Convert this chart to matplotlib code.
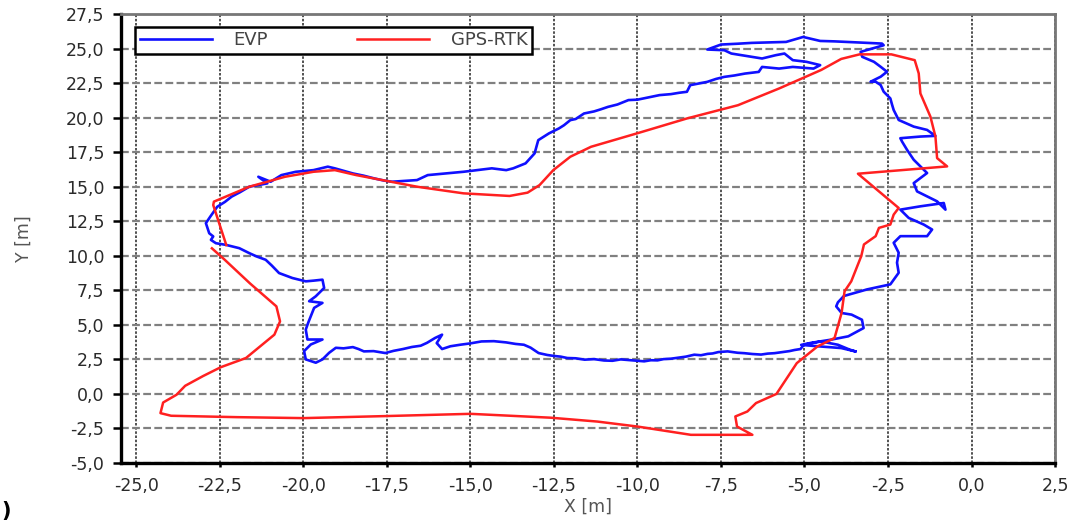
import numpy as np
import matplotlib
matplotlib.use("Agg")
import matplotlib.pyplot as plt
from matplotlib.ticker import MultipleLocator, FuncFormatter

# trayectoria EVP (x, y) en metros
evp_pts = [
    (-3.48, 3.08), (-3.64, 3.2), (-4.0, 3.56), (-4.51, 3.8), (-5.02, 3.56),
    (-5.12, 3.25), (-5.3, 3.18), (-5.45, 3.1), (-5.6, 3.05), (-5.74, 3.01),
    (-5.9, 2.95), (-6.1, 2.92), (-6.3, 2.85), (-6.56, 2.89), (-6.8, 2.95),
    (-7.0, 2.98), (-7.3, 3.08), (-7.58, 3.03), (-7.75, 2.93), (-7.9, 2.9),
    (-8.1, 2.8), (-8.3, 2.84), (-8.55, 2.7), (-8.8, 2.62), (-9.0, 2.55),
    (-9.22, 2.52), (-9.4, 2.43), (-9.6, 2.44), (-9.8, 2.36), (-10.0, 2.4),
    (-10.25, 2.45), (-10.5, 2.5), (-10.75, 2.4), (-11.0, 2.42), (-11.3, 2.52),
    (-11.58, 2.48), (-11.85, 2.58), (-12.1, 2.6), (-12.3, 2.7), (-12.5, 2.75),
    (-12.7, 2.82), (-12.96, 2.96), (-13.2, 3.35), (-13.4, 3.56), (-13.65, 3.62),
    (-13.93, 3.73), (-14.3, 3.82), (-14.67, 3.8), (-15.0, 3.66), (-15.31, 3.56),
    (-15.6, 3.45), (-15.85, 3.25), (-16.01, 3.68), (-15.85, 4.29), (-16.06, 4.05),
    (-16.3, 3.7), (-16.49, 3.49), (-16.75, 3.4), (-17.02, 3.25), (-17.3, 3.12),
    (-17.55, 2.96), (-17.9, 3.1), (-18.19, 3.08), (-18.35, 3.25), (-18.52, 3.39),
    (-18.8, 3.3), (-19.03, 3.34), (-19.23, 2.98), (-19.43, 2.5), (-19.63, 2.26),
    (-19.93, 2.5), (-19.98, 3.1), (-19.78, 3.58), (-19.43, 3.94), (-19.88, 3.94),
    (-19.93, 4.66), (-19.85, 5.2), (-19.78, 5.63), (-19.68, 6.23), (-19.43, 6.59),
    (-19.83, 6.71), (-19.63, 7.07), (-19.38, 7.67), (-19.43, 8.27), (-19.7, 8.2),
    (-19.93, 8.15), (-20.33, 8.39), (-20.73, 8.75), (-20.95, 9.3), (-21.13, 9.71),
    (-21.4, 9.95), (-21.62, 10.19), (-21.92, 10.55), (-22.32, 10.79), (-22.62, 10.91),
    (-22.77, 11.15), (-22.7, 11.4), (-22.82, 11.63), (-22.92, 12.36), (-22.79, 12.83),
    (-22.58, 13.55), (-22.35, 13.9), (-22.15, 14.28), (-21.9, 14.6), (-21.62, 15.0),
    (-21.08, 15.24), (-21.35, 15.72), (-20.98, 15.36), (-20.66, 15.84), (-20.23, 16.08),
    (-19.7, 16.2), (-19.27, 16.45), (-19.06, 16.33), (-18.8, 16.15), (-18.52, 15.96),
    (-18.2, 15.8), (-17.88, 15.6), (-17.6, 15.45), (-17.35, 15.36), (-16.6, 15.48),
    (-16.28, 15.84), (-15.8, 15.95), (-15.21, 16.08), (-14.8, 16.2), (-14.36, 16.33),
    (-13.93, 16.2), (-13.72, 16.33), (-13.35, 16.69), (-13.08, 17.41), (-12.97, 18.37),
    (-12.65, 18.86), (-12.35, 19.22), (-12.2, 19.45), (-12.01, 19.82), (-11.85, 19.9),
    (-11.6, 20.3), (-11.3, 20.45), (-11.1, 20.6), (-10.88, 20.78), (-10.6, 20.95),
    (-10.27, 21.27), (-10.0, 21.3), (-9.7, 21.45), (-9.34, 21.63), (-9.0, 21.7),
    (-8.75, 21.8), (-8.52, 21.87), (-8.42, 22.35), (-7.91, 22.59), (-7.65, 22.8),
    (-7.4, 22.95), (-7.1, 23.05), (-6.78, 23.19), (-6.37, 23.31), (-6.27, 23.67),
    (-5.76, 23.55), (-5.35, 23.67), (-4.73, 23.55), (-4.53, 23.8), (-4.94, 24.04),
    (-5.35, 24.16), (-5.6, 24.64), (-5.86, 24.52), (-6.27, 24.28), (-6.7, 24.45),
    (-7.19, 24.64), (-7.4, 24.88), (-7.91, 24.93), (-7.5, 25.29), (-7.0, 25.35),
    (-6.58, 25.41), (-6.0, 25.45), (-5.55, 25.48), (-5.04, 25.84), (-4.53, 25.55),
    (-4.1, 25.52), (-3.71, 25.48), (-3.2, 25.42), (-2.68, 25.36), (-2.63, 25.24),
    (-3.32, 24.76), (-3.27, 24.4), (-2.92, 24.04), (-2.72, 23.68), (-2.53, 23.32),
    (-2.72, 22.96), (-3.02, 22.6), (-2.87, 22.6), (-2.72, 22.36), (-2.63, 21.88),
    (-2.43, 21.39), (-2.38, 20.95), (-2.33, 20.55), (-2.18, 19.83), (-1.73, 19.35),
    (-1.33, 19.11), (-1.08, 18.68), (-1.53, 18.63), (-2.13, 18.51), (-2.08, 18.27),
    (-1.93, 17.67), (-1.73, 16.95), (-1.53, 16.47), (-1.33, 15.99), (-1.53, 15.63),
    (-1.73, 15.26), (-1.63, 14.66), (-1.33, 14.3), (-1.03, 13.94), (-0.78, 13.34),
    (-0.83, 13.82), (-1.53, 13.58), (-2.13, 13.34), (-1.88, 12.74), (-1.43, 12.26),
    (-1.18, 11.9), (-1.33, 11.42), (-2.13, 11.42), (-2.33, 10.94), (-2.18, 10.22),
    (-2.23, 9.5), (-2.18, 8.77), (-2.43, 7.93), (-3.12, 7.57), (-3.82, 7.09),
    (-4.0, 6.63), (-4.05, 6.34), (-3.89, 5.86), (-3.59, 5.74), (-3.28, 5.37),
    (-3.23, 4.77), (-3.69, 4.17), (-4.2, 3.93), (-4.8, 3.7), (-5.1, 3.55),
    (-4.6, 3.45), (-3.9, 3.32), (-3.48, 3.08),
]

# trayectoria GPS-RTK (x, y) en metros
gps_pts = [
    (-22.74, 10.54), (-22.36, 9.72), (-21.6, 8.0), (-20.81, 6.34), (-20.70, 5.25),
    (-20.87, 4.29), (-21.72, 2.6), (-22.47, 1.94), (-23.0, 1.3), (-23.54, 0.59),
    (-23.8, -0.06), (-24.2, -0.62), (-24.28, -1.39), (-23.96, -1.58), (-22.0, -1.68),
    (-20.0, -1.75), (-17.5, -1.6), (-15.0, -1.44), (-12.6, -1.72), (-11.2, -2.0),
    (-10.0, -2.36), (-8.4, -2.96), (-6.56, -2.96), (-7.02, -2.36), (-7.07, -1.63),
    (-6.71, -1.27), (-6.45, -0.66), (-5.84, 0.0), (-5.23, 2.23), (-4.61, 3.44),
    (-4.1, 4.05), (-3.89, 5.86), (-3.8, 7.43), (-3.6, 8.15), (-3.3, 9.98),
    (-3.22, 10.82), (-2.87, 11.42), (-2.77, 12.02), (-2.43, 12.26), (-2.33, 12.98),
    (-2.18, 13.46), (-3.4, 15.94), (-0.73, 16.47), (-1.03, 17.07), (-1.08, 18.63),
    (-1.23, 20.07), (-1.53, 21.75), (-1.58, 23.2), (-1.7, 24.16), (-2.4, 24.58),
    (-3.35, 24.58), (-3.9, 24.25), (-4.5, 23.45), (-5.76, 22.11), (-6.99, 20.9),
    (-8.52, 19.94), (-9.96, 18.9), (-11.39, 17.89), (-12.01, 17.17), (-12.52, 16.2),
    (-12.93, 15.12), (-13.29, 14.57), (-13.83, 14.33), (-15.21, 14.52), (-16.6, 15.0),
    (-18.42, 15.84), (-19.06, 16.2), (-19.7, 16.08), (-20.55, 15.72), (-21.62, 15.0),
    (-22.68, 13.92), (-22.7, 13.67), (-22.31, 10.78),
]

evp_x, evp_y = np.array(evp_pts).T
gps_x, gps_y = np.array(gps_pts).T

fig = plt.figure(figsize=(10.76, 5.21), dpi=100)
ax = fig.add_axes([0.1125, 0.1113, 0.868, 0.8618])

ax.plot(evp_x, evp_y, color='#1010ff', lw=1.9, label='EVP')
ax.plot(gps_x, gps_y, color='#ff2020', lw=1.8, label='GPS-RTK')

ax.set_xlim(-25.46, 2.5)
ax.set_ylim(-5, 27.5)
ax.xaxis.set_major_locator(MultipleLocator(2.5))
ax.yaxis.set_major_locator(MultipleLocator(2.5))
coma = FuncFormatter(lambda v, p: ("%.1f" % v).replace('.', ','))
ax.xaxis.set_major_formatter(coma)
ax.yaxis.set_major_formatter(coma)

ax.set_axisbelow(True)
ax.xaxis.grid(True, color='#333333', lw=1.2, linestyle=(0, (1.5, 1)))
ax.yaxis.grid(True, color='#808080', lw=1.6, linestyle=(0, (3.5, 1.5)))

for s in ['left', 'bottom']:
    ax.spines[s].set_color('black')
    ax.spines[s].set_linewidth(2.4)
for s in ['top', 'right']:
    ax.spines[s].set_color('#777777')
    ax.spines[s].set_linewidth(2)

ax.tick_params(axis='y', direction='out', length=6, width=1.8, pad=6,
               labelsize=12.5, labelcolor='#2a2a2a')
ax.tick_params(axis='x', direction='out', length=3, width=1.8, pad=7,
               labelsize=12.5, labelcolor='#2a2a2a')

ax.set_xlabel('X [m]', fontsize=12.5, color='#555555', labelpad=2)
ax.set_ylabel('Y [m]', fontsize=12.5, color='#555555', labelpad=24)

leg = ax.legend(loc='lower left', bbox_to_anchor=(0.015, 0.911, 0.425, 0.069),
                mode='expand', ncol=2, borderaxespad=0, fancybox=False,
                edgecolor='black', framealpha=1, handlelength=4,
                fontsize=13, borderpad=0.25, handletextpad=1.2)
leg.get_frame().set_linewidth(1.8)
for t in leg.get_texts():
    t.set_color('#444444')

fig.text(0.001, 0.0, ')', fontsize=15, fontweight='bold', ha='left', va='bottom')

fig.savefig('out.png', dpi=100)
